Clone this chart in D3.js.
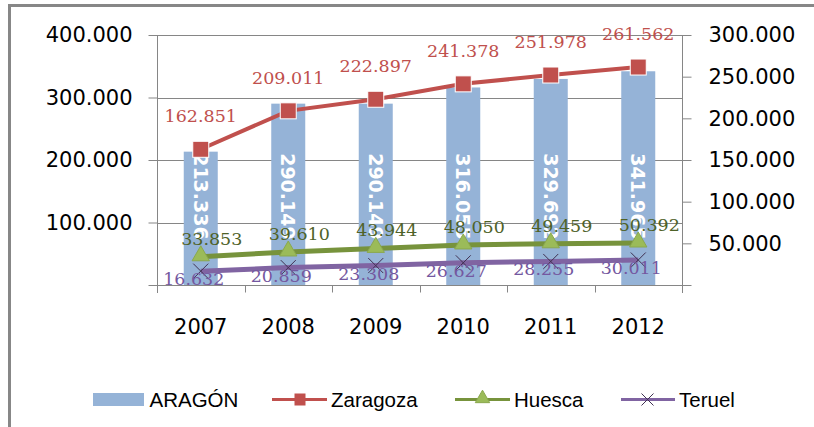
<!DOCTYPE html>
<html><head><meta charset="utf-8">
<script src="https://cdn.jsdelivr.net/npm/d3@7"></script>
<style>body{margin:0;background:#fff}svg{display:block}</style>
</head><body>
<svg id="c" width="814" height="427"></svg>
<script>
// ---- data ----
const years = ["2007","2008","2009","2010","2011","2012"];
const aragon   = [213336, 290149, 290149, 316055, 329692, 341965];
const zaragoza = [162851, 209011, 222897, 241378, 251978, 261562];
const huesca   = [33853, 39610, 43944, 48050, 49459, 50392];
const teruel   = [16632, 20859, 23308, 26627, 28255, 30011];
const leftTicks  = [0, 100000, 200000, 300000, 400000];
const rightTicks = [0, 50000, 100000, 150000, 200000, 250000, 300000];
const seriesNames = ["ARAGÓN", "Zaragoza", "Huesca", "Teruel"];

// ---- layout ----
const svg = d3.select("#c");
const L = 157, R = 682, T = 35, B = 285;
const loc = d3.formatLocale({decimal: ",", thousands: ".", grouping: [3], currency: ["", ""]});
const fmt = loc.format(",");
const fmtTick = d => d === 0 ? "" : fmt(d);

const x = d3.scaleBand().domain(years).range([L, R]).padding(0);
const cx = d => x(d) + x.bandwidth() / 2;
const yL = d3.scaleLinear().domain([0, 400000]).range([B, T]);
const yR = d3.scaleLinear().domain([0, 300000]).range([B, T]);

const C = {bar: "#95b3d7", zar: "#c0504d", hueL: "#77933c", hueM: "#9bbb59", hueT: "#4f6228",
           ter: "#8064a2", terT: "#7458a0", terM: "#403152", grid: "#868686"};

// border (outer chart frame, partially visible)
svg.append("line").attr("x1", 9.5).attr("x2", 9.5).attr("y1", 4).attr("y2", 427)
  .attr("stroke", "#878787").attr("stroke-width", 3);
svg.append("line").attr("x1", 8).attr("x2", 814).attr("y1", 5.5).attr("y2", 5.5)
  .attr("stroke", "#878787").attr("stroke-width", 3);

// gridlines
svg.append("g").selectAll("line").data(leftTicks.filter(d => d > 0)).join("line")
  .attr("x1", L).attr("x2", R).attr("y1", d => Math.round(yL(d)) + 0.5).attr("y2", d => Math.round(yL(d)) + 0.5)
  .attr("stroke", C.grid).attr("stroke-width", 1);

// bars
svg.append("g").selectAll("rect").data(aragon).join("rect")
  .attr("x", (d, i) => cx(years[i]) - 17).attr("width", 34)
  .attr("y", d => yL(d)).attr("height", d => B - yL(d))
  .attr("fill", C.bar);

// axes
const axisFont = "'DejaVu Sans', sans-serif";
const gL = svg.append("g").attr("transform", `translate(${L + 0.5},0)`)
  .call(d3.axisLeft(yL).tickValues(leftTicks).tickSize(9).tickSizeOuter(0).tickPadding(16).tickFormat(fmtTick));
const gR = svg.append("g").attr("transform", `translate(${R + 0.5},0)`)
  .call(d3.axisRight(yR).tickValues(rightTicks).tickSize(9).tickSizeOuter(0).tickPadding(17).tickFormat(fmtTick));
[gL, gR].forEach(g => {
  g.selectAll("path.domain").attr("stroke", C.grid).attr("d", null);
  g.selectAll(".tick line").attr("stroke", C.grid);
  g.selectAll(".tick text").attr("font-family", axisFont).attr("font-size", 21).attr("fill", "#000");
});
gL.append("line").attr("y1", T).attr("y2", B + 8).attr("stroke", C.grid);
gR.append("line").attr("y1", T).attr("y2", B + 8).attr("stroke", C.grid);

// x axis
const gX = svg.append("g").attr("transform", `translate(0,${B + 0.5})`);
gX.append("line").attr("x1", L).attr("x2", R).attr("stroke", C.grid);
gX.selectAll("line.tk").data(years.map(y => x(y)).concat([R])).join("line").attr("class", "tk")
  .attr("x1", d => Math.round(d) + 0.5).attr("x2", d => Math.round(d) + 0.5).attr("y1", 0).attr("y2", 7)
  .attr("stroke", C.grid);
gX.selectAll("text").data(years).join("text")
  .attr("x", d => cx(d)).attr("y", 48).attr("text-anchor", "middle")
  .attr("font-family", axisFont).attr("font-size", 21).attr("fill", "#000").text(d => d);

// bar labels (rotated)
const labelTop = yL(d3.min(aragon)) + 1.5;
svg.append("g").selectAll("text").data(aragon).join("text")
  .attr("transform", (d, i) => `translate(${cx(years[i])},${labelTop}) rotate(90)`)
  .attr("dy", "0.36em").attr("text-anchor", "start")
  .attr("font-family", axisFont).attr("font-weight", "bold").attr("font-size", 19)
  .attr("fill", "#fff").text(d => fmt(d));

// lines
const line = d3.line().x((d, i) => cx(years[i])).y(d => yR(d));
svg.append("path").datum(teruel).attr("d", line).attr("fill", "none").attr("stroke", C.ter).attr("stroke-width", 5);
svg.append("path").datum(huesca).attr("d", line).attr("fill", "none").attr("stroke", C.hueL).attr("stroke-width", 5);
svg.append("path").datum(zaragoza).attr("d", line).attr("fill", "none").attr("stroke", C.zar).attr("stroke-width", 4);

// markers
const xMark = s => `M${-s},${-s}L${s},${s}M${-s},${s}L${s},${-s}`;
svg.append("g").selectAll("path").data(teruel).join("path")
  .attr("transform", (d, i) => `translate(${cx(years[i])},${yR(d)})`)
  .attr("d", xMark(7.5)).attr("stroke", C.terM).attr("stroke-width", 1).attr("fill", "none");
const tri = d3.symbol(d3.symbolTriangle).size(130);
svg.append("g").selectAll("path").data(huesca).join("path")
  .attr("transform", (d, i) => `translate(${cx(years[i])},${yR(d) - 1})`)
  .attr("d", tri).attr("fill", C.hueM).attr("stroke", "#8aa84e").attr("stroke-width", 1);
svg.append("g").selectAll("rect").data(zaragoza).join("rect")
  .attr("x", (d, i) => cx(years[i]) - 8).attr("y", d => yR(d) - 8)
  .attr("width", 16).attr("height", 16)
  .attr("fill", C.zar).attr("stroke", "#fff").attr("stroke-width", 1);

// point labels
const labFont = "'DejaVu Serif', serif";
svg.append("g").selectAll("text").data(zaragoza).join("text")
  .attr("x", (d, i) => cx(years[i])).attr("y", d => yR(d) - 27).attr("text-anchor", "middle")
  .attr("font-family", labFont).attr("font-size", 17.5).attr("fill", C.zar).text(d => fmt(d));
svg.append("g").selectAll("text").data(huesca).join("text")
  .attr("x", (d, i) => cx(years[i]) + 11).attr("y", d => yR(d) - 12).attr("text-anchor", "middle")
  .attr("font-family", labFont).attr("font-size", 17.5).attr("fill", C.hueT).text(d => fmt(d));
svg.append("g").selectAll("text").data(teruel).join("text")
  .attr("x", (d, i) => cx(years[i]) - 7).attr("y", d => yR(d) + 14).attr("text-anchor", "middle")
  .attr("font-family", labFont).attr("font-size", 17.5).attr("fill", C.terT).text(d => fmt(d));

// legend
const lg = svg.append("g");
const legFont = "'Liberation Sans', Arial, sans-serif";
const ly = 399.5;
lg.append("rect").attr("x", 93).attr("y", 393).attr("width", 51).attr("height", 13).attr("fill", C.bar);
const legText = (xx, t) => lg.append("text").attr("x", xx).attr("y", ly + 7.5)
  .attr("font-family", legFont).attr("font-size", 20.5).attr("fill", "#000").text(t);
legText(149.5, seriesNames[0]);
lg.append("line").attr("x1", 272).attr("x2", 327).attr("y1", ly).attr("y2", ly).attr("stroke", C.zar).attr("stroke-width", 3);
lg.append("rect").attr("x", 294.5).attr("y", ly - 6).attr("width", 11).attr("height", 12).attr("fill", C.zar);
legText(331, seriesNames[1]);
lg.append("line").attr("x1", 455).attr("x2", 510).attr("y1", ly).attr("y2", ly).attr("stroke", C.hueL).attr("stroke-width", 3);
lg.append("path").attr("transform", `translate(482.5,${ly - 1})`).attr("d", d3.symbol(d3.symbolTriangle).size(90))
  .attr("fill", C.hueM).attr("stroke", "#8aa84e");
legText(514, seriesNames[2]);
lg.append("line").attr("x1", 621).attr("x2", 675).attr("y1", ly).attr("y2", ly).attr("stroke", C.ter).attr("stroke-width", 3);
lg.append("path").attr("transform", `translate(647.5,${ly})`).attr("d", xMark(6))
  .attr("stroke", C.terM).attr("stroke-width", 1).attr("fill", "none");
legText(679, seriesNames[3]);
</script>
</body></html>
